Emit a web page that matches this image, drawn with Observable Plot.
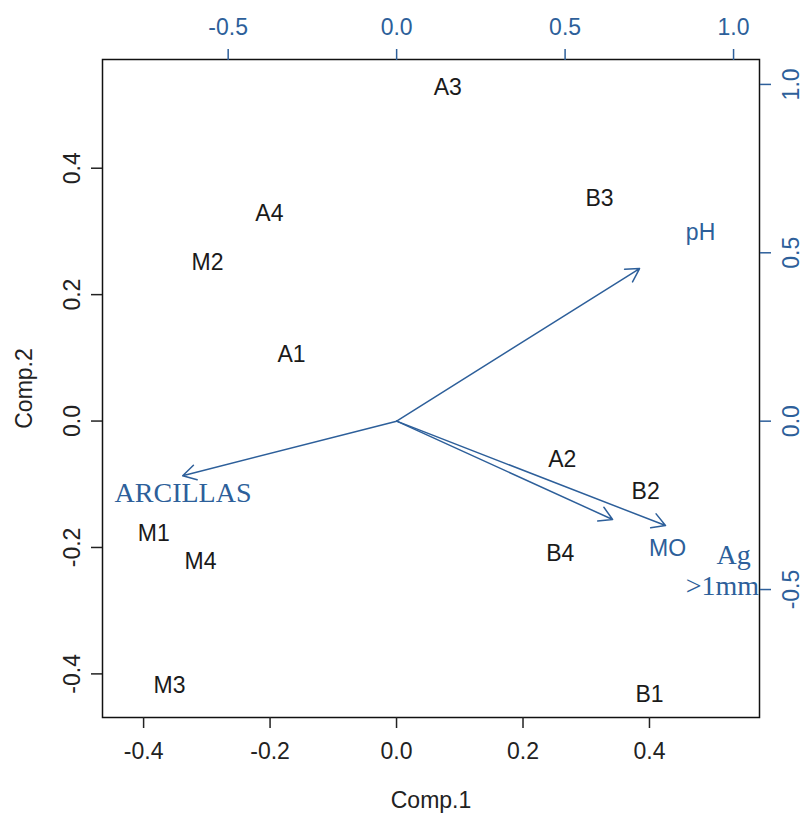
<!DOCTYPE html>
<html><head><meta charset="utf-8">
<script src="https://cdn.jsdelivr.net/npm/d3@7"></script>
<script src="https://cdn.jsdelivr.net/npm/@observablehq/plot@0.6"></script>
<style>
body{margin:0;background:#fff;}
#chart{position:relative;width:808px;height:817px;}
#chart svg{position:absolute;left:0;top:0;}
</style></head><body><div id="chart"></div>
<script>
// Sample scores (Comp.1, Comp.2)
const sampleNames = ["A3","B3","A4","M2","A1","A2","B2","B4","M1","M4","M3","B1"];
const comp1 = [0.081,0.321,-0.201,-0.299,-0.166,0.262,0.394,0.259,-0.384,-0.310,-0.359,0.400];
const comp2 = [0.528,0.352,0.328,0.251,0.105,-0.061,-0.112,-0.210,-0.178,-0.222,-0.419,-0.433];
// Variable loadings (secondary / top-right scale)
const varNames = ["pH","ARCILLAS","MO","Ag >1mm"];
const load1 = [0.721,-0.635,0.641,0.798];
const load2 = [0.453,-0.162,-0.292,-0.310];
// Variable labels (secondary scale)
const varLabelText = ["pH","ARCILLAS","MO","Ag",">1mm"];
const varLabelX = [0.902,-0.634,0.804,1.000,0.967];
const varLabelY = [0.559,-0.212,-0.378,-0.399,-0.491];
const serifLabels = ["ARCILLAS","Ag",">1mm"];
// Ticks
const primaryTicks = [-0.4,-0.2,0,0.2,0.4];
const secondaryTicks = [-0.5,0,0.5,1.0];
const xTitle = "Comp.1", yTitle = "Comp.2";

const fmt = d => d.toFixed(1);
const BLUE = "#2d5f9a";
const SANS = "'Liberation Sans', Arial, sans-serif";
const SERIF = "'Liberation Serif', 'Times New Roman', serif";
const W = 808, H = 817;
const margins = {marginTop:59, marginRight:49, marginBottom:100, marginLeft:102};

const samples = sampleNames.map((n,i)=>({name:n, x:comp1[i], y:comp2[i]}));
const vars = varNames.map((n,i)=>({name:n, x:load1[i], y:load2[i]}));
const vlabels = varLabelText.map((t,i)=>({text:t, x:varLabelX[i], y:varLabelY[i]}));

const p1 = Plot.plot({
  width:W, height:H, ...margins,
  x:{domain:[-0.465,0.574]}, y:{domain:[-0.469,0.572]},
  style:{fontFamily:SANS, background:"transparent", overflow:"visible"},
  marks:[
    Plot.frame({stroke:"#111", strokeWidth:1.5}),
    Plot.axisX({anchor:"bottom", ticks:primaryTicks, tickFormat:fmt, tickSize:11, tickPadding:14, fontSize:23, color:"#222", strokeWidth:1.5, label:null}),
    Plot.axisY({anchor:"left", ticks:primaryTicks, tickFormat:fmt, tickSize:11, tickPadding:12, tickRotate:-90, fontSize:23, color:"#222", strokeWidth:1.5, label:null}),
    Plot.text([xTitle], {frameAnchor:"bottom", dy:83, lineAnchor:"middle", textAnchor:"middle", fontSize:23, fill:"#222"}),
    Plot.text([yTitle], {frameAnchor:"left", dx:-78, rotate:-90, lineAnchor:"middle", textAnchor:"middle", fontSize:23, fill:"#222"}),
    Plot.text(samples, {x:"x", y:"y", text:"name", fontSize:23, fill:"#1a1a1a"})
  ]
});

const p2 = Plot.plot({
  width:W, height:H, ...margins,
  x:{domain:[-0.873,1.077]}, y:{domain:[-0.880,1.074]},
  style:{fontFamily:SANS, background:"transparent", overflow:"visible"},
  marks:[
    Plot.axisX({anchor:"top", ticks:secondaryTicks, tickFormat:fmt, tickSize:11, tickPadding:14, fontSize:23, color:BLUE, strokeWidth:1.5, label:null}),
    Plot.axisY({anchor:"right", ticks:secondaryTicks, tickFormat:fmt, tickSize:11, tickPadding:12, tickRotate:-90, lineAnchor:"top", fontSize:23, color:BLUE, strokeWidth:1.5, label:null}),
    Plot.arrow(vars, {x1:0, y1:0, x2:"x", y2:"y", stroke:BLUE, strokeWidth:1.5, headLength:15, headAngle:60}),
    Plot.text(vlabels.filter(d=>!serifLabels.includes(d.text)), {x:"x", y:"y", text:"text", fontSize:23, fill:BLUE, fontFamily:SANS}),
    Plot.text(vlabels.filter(d=>serifLabels.includes(d.text)), {x:"x", y:"y", text:"text", fontSize:28, fill:BLUE, fontFamily:SERIF})
  ]
});

const c = document.getElementById("chart");
c.appendChild(p1);
c.appendChild(p2);
</script>
</body></html>
